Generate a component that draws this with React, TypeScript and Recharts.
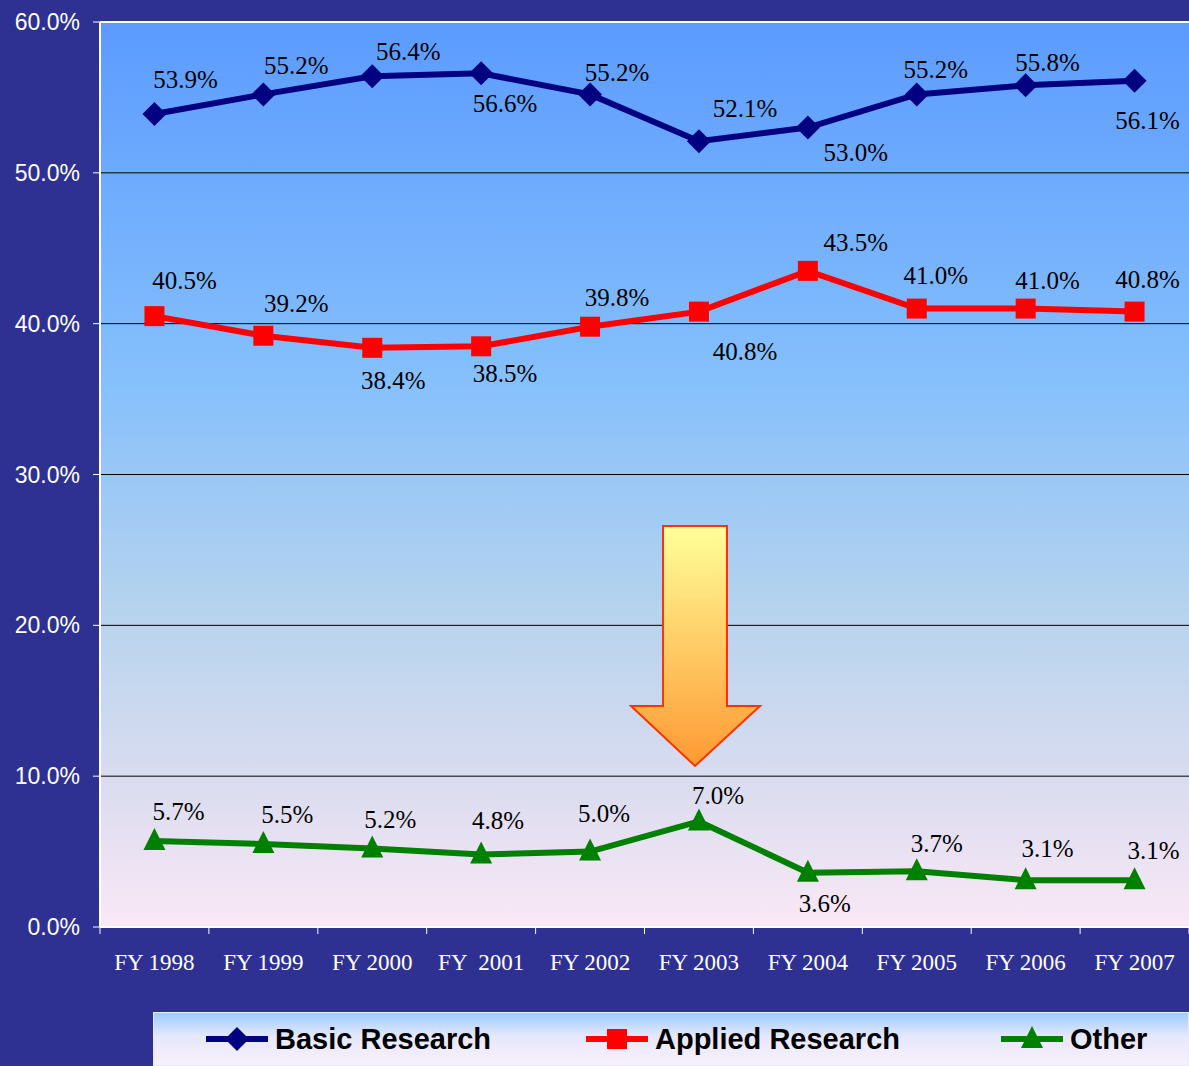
import React from 'react'
import { LineChart, Line, XAxis, YAxis, CartesianGrid, ReferenceLine } from 'recharts'

const years = ['FY 1998', 'FY 1999', 'FY 2000', 'FY  2001', 'FY 2002', 'FY 2003', 'FY 2004', 'FY 2005', 'FY 2006', 'FY 2007']
const basicResearch = [53.9, 55.2, 56.4, 56.6, 55.2, 52.1, 53.0, 55.2, 55.8, 56.1]
const appliedResearch = [40.5, 39.2, 38.4, 38.5, 39.8, 40.8, 43.5, 41.0, 41.0, 40.8]
const otherResearch = [5.7, 5.5, 5.2, 4.8, 5.0, 7.0, 3.6, 3.7, 3.1, 3.1]
const yTicks = [0, 10, 20, 30, 40, 50, 60]

// label nudges relative to each point [dx, dy] (layout only)
const basicNudge = [[31, -35], [33, -29], [36, -25], [24, 30], [27, -22], [46, -33], [48, 25], [19, -25], [22, -23], [13, 40]]
const appliedNudge = [[30, -36], [33, -32], [21, 33], [24, 27], [27, -29], [46, 40], [48, -28], [19, -33], [22, -28], [13, -32]]
const otherNudge = [[24, -30], [24, -30], [18, -29], [17, -34], [14, -38], [19, -26], [17, 31], [20, -28], [22, -32], [19, -30]]

const data = years.map((year, i) => ({
  year,
  basic: basicResearch[i],
  applied: appliedResearch[i],
  other: otherResearch[i],
}))

const BG = '#2E3192'
const SERIF = '"Liberation Serif", "Times New Roman", serif'
const SANS = '"Liberation Sans", Arial, sans-serif'
const PLOT_W = 1089
const BAND = PLOT_W / years.length

type Shape = 'diamond' | 'square' | 'triangle'

function markerPath(shape: Shape, x: number, y: number) {
  if (shape === 'diamond') return `M${x},${y - 12} L${x + 12},${y} L${x},${y + 12} L${x - 12},${y} Z`
  if (shape === 'square') return `M${x - 10},${y - 10} h20 v20 h-20 Z`
  return `M${x},${y - 13} L${x + 11},${y + 9} L${x - 11},${y + 9} Z`
}

const makeDot = (shape: Shape, color: string) => (props: any) => {
  const { cx, cy, index } = props
  if (cx == null || cy == null) return <g key={index} />
  return <path key={index} d={markerPath(shape, cx, cy)} fill={color} />
}

const makeLabel = (nudge: number[][]) => (props: any) => {
  const { x, y, value, index } = props
  const [dx, dy] = nudge[index] || [0, -28]
  return (
    <text
      key={index}
      x={x + dx}
      y={y + dy}
      textAnchor="middle"
      dominantBaseline="central"
      fontFamily={SERIF}
      fontSize={25}
      fill="#000"
    >
      {Number(value).toFixed(1)}%
    </text>
  )
}

const XTick = (props: any) => {
  const { x, y, payload, index } = props
  return (
    <g>
      <line x1={x - BAND / 2} x2={x - BAND / 2} y1={y} y2={y + 7} stroke="#fff" strokeWidth={1} />
      {index === years.length - 1 && (
        <line x1={x + BAND / 2} x2={x + BAND / 2} y1={y} y2={y + 7} stroke="#fff" strokeWidth={1} />
      )}
      <text x={x} y={y + 35} textAnchor="middle" dominantBaseline="central" fontFamily={SERIF} fontSize={23} fill="#fff" style={{ whiteSpace: 'pre' }}>
        {payload.value}
      </text>
    </g>
  )
}

function LegendItem({ shape, color, label, left }: { shape: Shape; color: string; label: string; left: number }) {
  return (
    <div style={{ position: 'absolute', left, top: 0, height: '100%', display: 'flex', alignItems: 'center' }}>
      <svg width={62} height={30}>
        <line x1={0} x2={62} y1={15} y2={15} stroke={color} strokeWidth={6} />
        <path d={markerPath(shape, 31, 15)} fill={color} />
      </svg>
      <span style={{ marginLeft: 7, fontFamily: SANS, fontWeight: 700, fontSize: 29, color: '#000', whiteSpace: 'nowrap' }}>{label}</span>
    </div>
  )
}

export default function App() {
  return (
    <div style={{ position: 'absolute', left: 0, top: 0, width: 1189, height: 1066, background: BG, overflow: 'hidden' }}>
      <LineChart width={1189} height={1066} data={data} margin={{ top: 22, right: 0, left: 0, bottom: 79 }}>
        <defs>
          <linearGradient id="plotBg" x1="0" y1="0" x2="0" y2="1">
            <stop offset="0%" stopColor="#5B9BFF" />
            <stop offset="40%" stopColor="#86C0FC" />
            <stop offset="65%" stopColor="#B6D3EE" />
            <stop offset="85%" stopColor="#DCDDF0" />
            <stop offset="100%" stopColor="#FAE8F6" />
          </linearGradient>
        </defs>
        <CartesianGrid vertical={false} stroke="#000" strokeWidth={1} fill="url(#plotBg)" fillOpacity={1} />
        <ReferenceLine y={60} stroke="#fff" strokeWidth={2} />
        <XAxis
          dataKey="year"
          height={60}
          padding={{ left: BAND / 2, right: BAND / 2 }}
          axisLine={{ stroke: '#fff', strokeWidth: 2 }}
          tickLine={false}
          tickSize={0}
          tickMargin={0}
          interval={0}
          tick={<XTick />}
        />
        <YAxis
          width={100}
          domain={[0, 60]}
          ticks={yTicks}
          interval={0}
          axisLine={{ stroke: '#fff', strokeWidth: 2 }}
          tickLine={{ stroke: '#fff' }}
          tickSize={7}
          tickMargin={13}
          tick={{ fill: '#fff', fontSize: 23, fontFamily: SANS }}
          tickFormatter={(v) => `${Number(v).toFixed(1)}%`}
        />
        <Line
          dataKey="basic"
          stroke="#000080"
          strokeWidth={6}
          dot={makeDot('diamond', '#000080')}
          activeDot={false}
          label={makeLabel(basicNudge)}
          isAnimationActive={false}
        />
        <Line
          dataKey="applied"
          stroke="#FF0000"
          strokeWidth={6}
          dot={makeDot('square', '#FF0000')}
          activeDot={false}
          label={makeLabel(appliedNudge)}
          isAnimationActive={false}
        />
        <Line
          dataKey="other"
          stroke="#008000"
          strokeWidth={6}
          dot={makeDot('triangle', '#008000')}
          activeDot={false}
          label={makeLabel(otherNudge)}
          isAnimationActive={false}
        />
      </LineChart>

      <svg width={1189} height={1066} style={{ position: 'absolute', left: 0, top: 0, pointerEvents: 'none' }}>
        <defs>
          <linearGradient id="arrowFill" x1="0" y1="0" x2="0" y2="1">
            <stop offset="0%" stopColor="#FFFF99" />
            <stop offset="100%" stopColor="#FF9933" />
          </linearGradient>
        </defs>
        <path
          d="M663,526 L727,526 L727,706 L760,706 L695,766 L631,706 L663,706 Z"
          fill="url(#arrowFill)"
          stroke="#FF3300"
          strokeWidth={2}
        />
      </svg>

      <div
        style={{
          position: 'absolute',
          left: 153,
          top: 1012,
          width: 1036,
          height: 54,
          boxSizing: 'border-box',
          border: '1px solid #E8E8FF',
          background: 'linear-gradient(to bottom, #9ECDFC 0%, #E6E8FC 45%, #F9F0FC 100%)',
        }}
      >
        <LegendItem shape="diamond" color="#000080" label="Basic Research" left={52} />
        <LegendItem shape="square" color="#FF0000" label="Applied Research" left={432} />
        <LegendItem shape="triangle" color="#008000" label="Other" left={847} />
      </div>
    </div>
  )
}
